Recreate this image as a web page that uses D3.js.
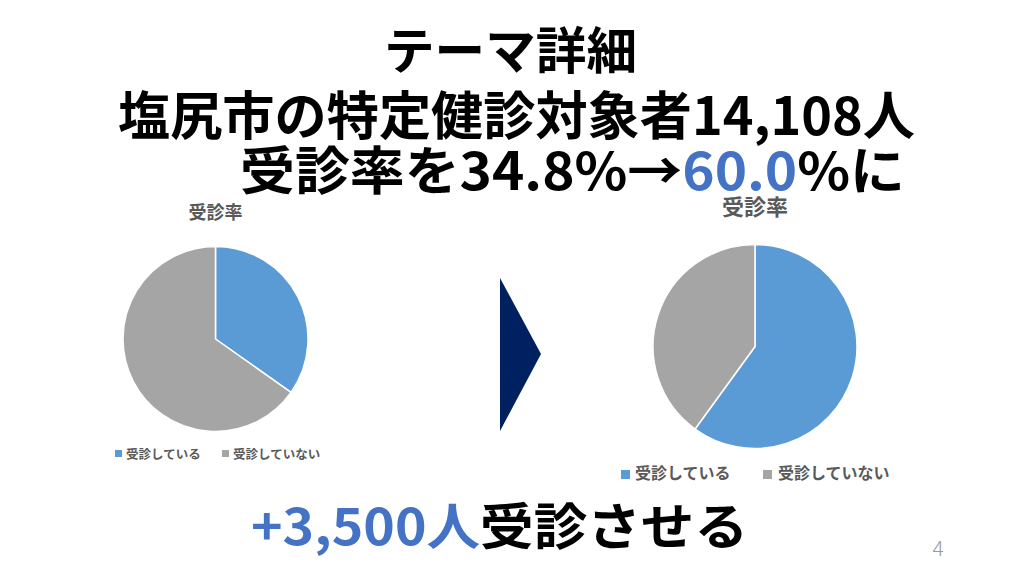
<!DOCTYPE html>
<html><head><meta charset="utf-8">
<script src="https://cdn.jsdelivr.net/npm/d3@7"></script>
<style>
html,body{margin:0;padding:0;background:#fff;}
svg{display:block;font-family:"Noto Sans CJK JP","Noto Sans",sans-serif;}
</style></head>
<body>
<svg id="c" width="1024" height="576"></svg>
<script>
const categories = ["受診している", "受診していない"];
const beforeValues = [34.8, 65.2];
const afterValues = [60.0, 40.0];
const chartTitle = "受診率";
const colors = ["#5B9BD5", "#A5A5A5"];

const svg = d3.select("#c");

function heading(x, y, size, len) {
  return svg.append("text").attr("x", x).attr("y", y)
    .attr("font-size", size).attr("font-weight", 700).attr("fill", "#000")
    .attr("textLength", len).attr("lengthAdjust", "spacingAndGlyphs");
}

// Headings
heading(384, 69, 50, 253).text("テーマ詳細");
heading(118, 135, 52, 797).text("塩尻市の特定健診対象者14,108人");
const l3 = heading(240, 190, 52, 665);
l3.append("tspan").text("受診率を34.8%→");
l3.append("tspan").attr("fill", "#4472C4").text("60.0");
l3.append("tspan").text("%に");

// Bottom
const b = heading(251, 545, 50, 497);
b.append("tspan").attr("fill", "#4472C4").text("+3,500人");
b.append("tspan").text("受診させる");
svg.append("text").attr("x", 938).attr("y", 556).attr("text-anchor", "middle")
  .attr("font-size", 21).attr("font-weight", 300).attr("fill", "#9a9a9a").text("4");

// Arrow
svg.append("path").attr("d", "M500,278 L541,354 L500,431 Z").attr("fill", "#002060");

function drawPie(values, cfg) {
  const g = svg.append("g");
  const pie = d3.pie().sort(null).value(d => d)(values);
  const arc = d3.arc().innerRadius(0).outerRadius(cfg.r);
  g.append("g").attr("transform", `translate(${cfg.cx},${cfg.cy})`)
    .selectAll("path").data(pie).join("path")
    .attr("d", arc).attr("fill", (d, i) => colors[i])
    .attr("stroke", "#fff").attr("stroke-width", 1.5).attr("stroke-linejoin", "round");
  g.append("text").attr("x", cfg.cx).attr("y", cfg.titleY).attr("text-anchor", "middle")
    .attr("font-size", cfg.titleSize).attr("font-weight", 700).attr("fill", "#595959").text(chartTitle);
  categories.forEach((c, i) => {
    g.append("rect").attr("x", cfg.legX[i]).attr("y", cfg.sqY)
      .attr("width", cfg.sq).attr("height", cfg.sq).attr("fill", colors[i]);
    g.append("text").attr("x", cfg.textX[i]).attr("y", cfg.legY)
      .attr("font-size", cfg.legSize).attr("font-weight", 700).attr("fill", "#595959").text(c);
  });
}

drawPie(beforeValues, {cx: 215.5, cy: 339, r: 92.5, titleY: 219, titleSize: 18,
  legX: [115, 222], sqY: 450, sq: 7, textX: [126, 233], legY: 459, legSize: 12.5});
drawPie(afterValues, {cx: 755, cy: 346.5, r: 102, titleY: 215, titleSize: 22,
  legX: [621, 763], sqY: 470, sq: 9, textX: [635, 778], legY: 479, legSize: 16});
</script>
</body></html>
